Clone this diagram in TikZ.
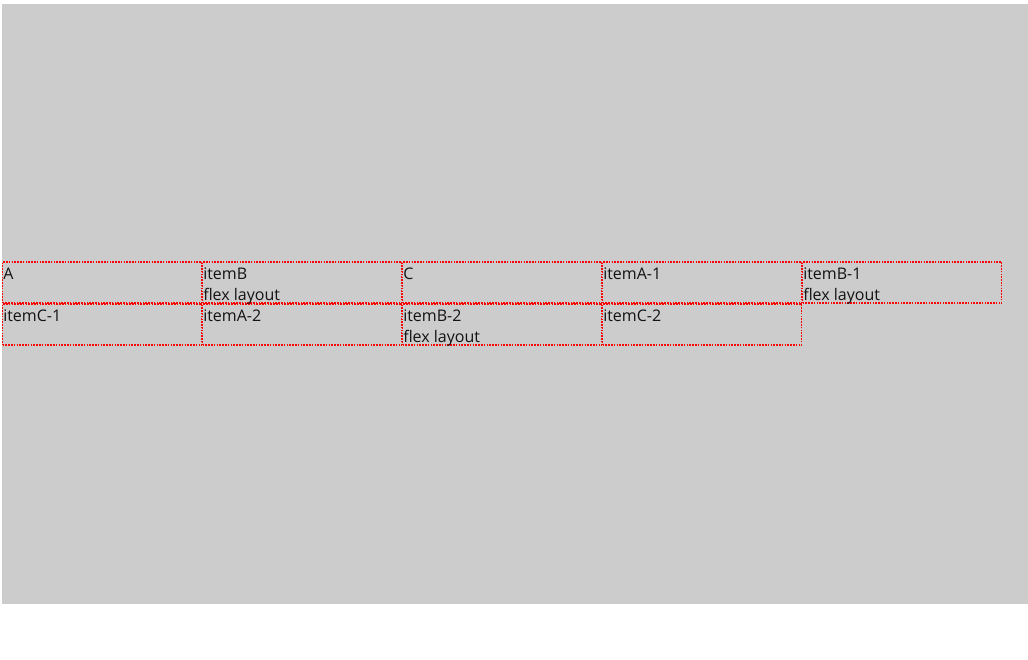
\documentclass[tikz,border=0pt]{standalone}
\usepackage{fontspec}
\setmainfont{Open Sans}
\definecolor{bggray}{RGB}{204,204,204}
\definecolor{boxred}{RGB}{255,0,0}
\definecolor{txt}{RGB}{20,20,20}
\begin{document}
\begin{tikzpicture}[x=0.75pt,y=-0.75pt,
  cell/.style={draw=boxred, line width=1pt, dash pattern=on 1.2pt off 0.9pt,
    rectangle, inner sep=0pt, outer sep=0pt, anchor=north west,
    minimum width=149.25pt, minimum height=30.75pt},
  lbl/.style={anchor=base west, inner sep=0pt, text=txt,
    font=\fontsize{12pt}{15.75pt}\selectfont}]
\useasboundingbox (0,0) rectangle (1028,660);
\fill[white] (0,0) rectangle (1028,660);
\fill[bggray] (2,4) rectangle (1028,604);
% row 1
\node[cell] (r1c1) at (2.5,262) {};
\node[cell] (r1c2) at (202.5,262) {};
\node[cell] (r1c3) at (402.5,262) {};
\node[cell] (r1c4) at (602.5,262) {};
\node[cell] (r1c5) at (802.5,262) {};
% row 2
\node[cell] (r2c1) at (2.5,304) {};
\node[cell] (r2c2) at (202.5,304) {};
\node[cell] (r2c3) at (402.5,304) {};
\node[cell] (r2c4) at (602.5,304) {};
% labels
\node[lbl] (t11) at ([shift={(0.5,17)}]r1c1.north west) {\vtop{\hbox{A}}};
\node[lbl] (t12) at ([shift={(0.5,17)}]r1c2.north west) {\vtop{\hbox{itemB}\hbox{flex layout}}};
\node[lbl] (t13) at ([shift={(0.5,17)}]r1c3.north west) {\vtop{\hbox{C}}};
\node[lbl] (t14) at ([shift={(0.5,17)}]r1c4.north west) {\vtop{\hbox{itemA-1}}};
\node[lbl] (t15) at ([shift={(0.5,17)}]r1c5.north west) {\vtop{\hbox{itemB-1}\hbox{flex layout}}};
\node[lbl] (t21) at ([shift={(0.5,17)}]r2c1.north west) {\vtop{\hbox{itemC-1}}};
\node[lbl] (t22) at ([shift={(0.5,17)}]r2c2.north west) {\vtop{\hbox{itemA-2}}};
\node[lbl] (t23) at ([shift={(0.5,17)}]r2c3.north west) {\vtop{\hbox{itemB-2}\hbox{flex layout}}};
\node[lbl] (t24) at ([shift={(0.5,17)}]r2c4.north west) {\vtop{\hbox{itemC-2}}};
\end{tikzpicture}
\end{document}
